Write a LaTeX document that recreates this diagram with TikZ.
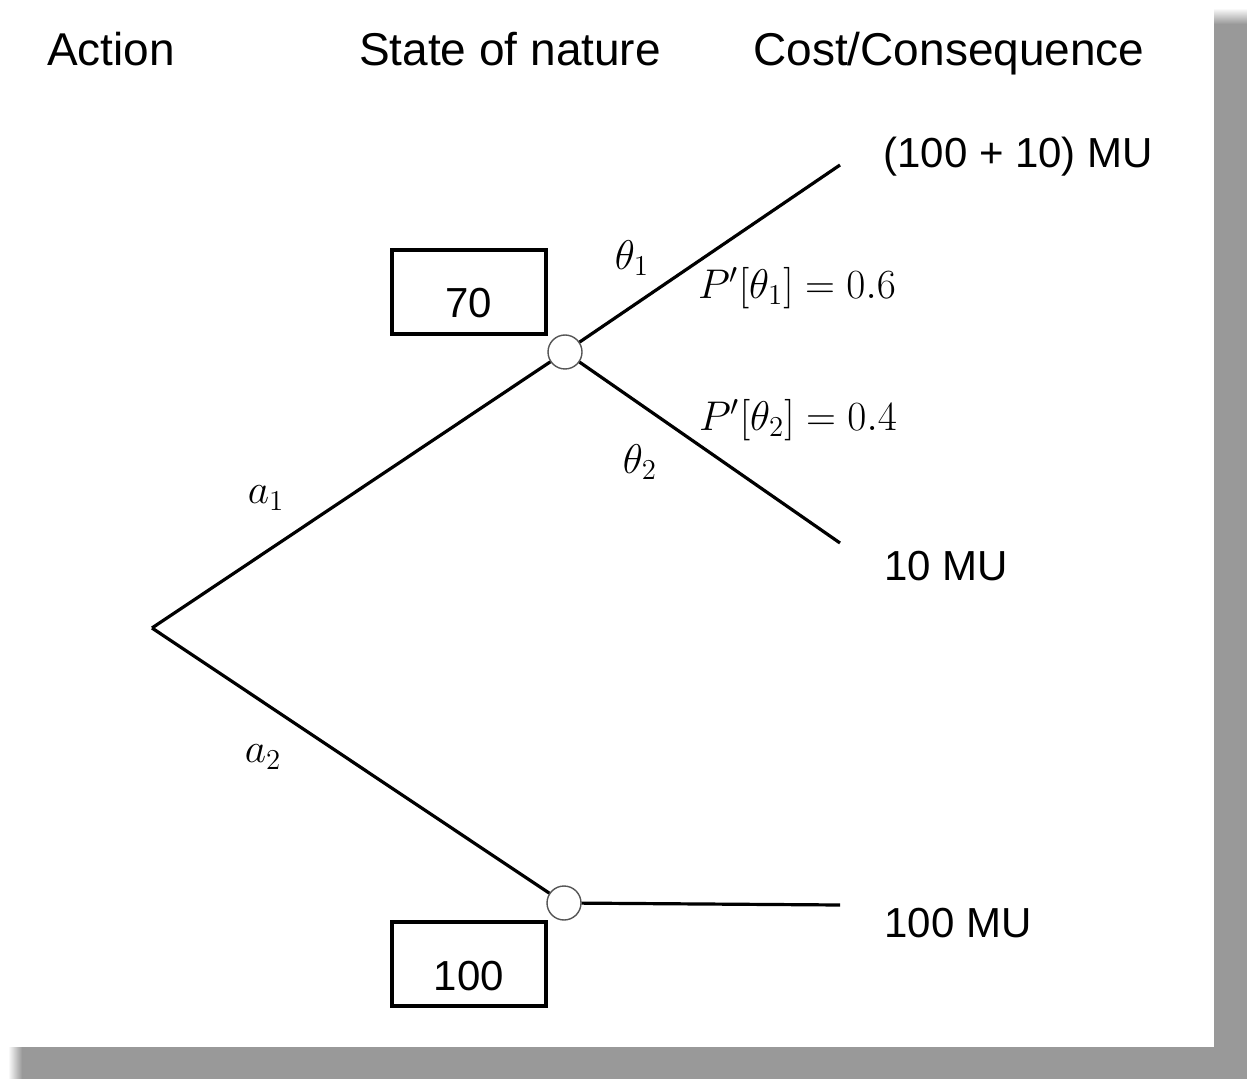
\documentclass[tikz,border=0pt]{standalone}
\usepackage{amsmath}
\usepackage[no-math]{fontspec}
\setmainfont{Liberation Sans}
\usepackage{xcolor}
\usetikzlibrary{positioning}
\definecolor{shadowgray}{HTML}{999999}
\definecolor{ringgray}{HTML}{555555}

\begin{document}
\begin{tikzpicture}[
  x=0.5pt,y=-0.5pt,
  head/.style={font=\fontsize{23}{27}\selectfont,anchor=base,inner sep=0pt},
  cons/.style={font=\fontsize{21}{25}\selectfont,anchor=west,inner sep=0pt},
  branch/.style={line width=1.6pt},
  chance/.style={circle,draw=ringgray,line width=0.7pt,fill=white,
                 minimum size=17pt,inner sep=0pt},
  valbox/.style={draw,line width=2pt,minimum width=77pt,minimum height=42pt,
                 inner sep=0pt,font=\fontsize{21}{25}\selectfont,
                 text height=26pt,text depth=0pt},
  lbl/.style={font=\fontsize{21.5}{25}\selectfont,inner sep=0pt}
]
\useasboundingbox (0,0) rectangle (1247,1079);

%------ page + drop shadow ------------------------------------------------------
\fill[shadowgray] (20,22) rectangle (1247,1079);
\shade[top color=white,bottom color=shadowgray] (1214,8) rectangle (1247,24);
\shade[left color=white,right color=shadowgray] (8,1047) rectangle (22,1079);
\fill[white] (0,0) rectangle (1214,1047);

%------ column heads ------------------------------------------------------------
\node[head] (hact) at (111,66) {Action};
\node[head] (hsta) at (510,66) {State of nature};
\node[head] (hcon) at (949,66) {Cost/Consequence};

%------ decision + chance nodes -------------------------------------------------
\coordinate (root) at (152,628);
\node[chance] (up) at (565,352) {};
\node[chance] (lo) at (564,903) {};

\coordinate (e1) at (840,165);
\coordinate (e2) at (840,543);
\coordinate (e3) at (840,905);

%------ expected values ---------------------------------------------------------
\node[valbox] (b70)  at (469,292) {70};
\node[valbox] (b100) at (469,964) {100};

%------ branches ----------------------------------------------------------------
\draw[branch] (root) -- (up);
\draw[branch] (root) -- (lo);
\draw[branch] (up) -- (e1);
\draw[branch] (up) -- (e2);
\draw[branch] (lo) -- (e3);

%------ branch labels -----------------------------------------------------------
\node[lbl] (la1) at (266,498) {$a_1$};
\node[lbl] (la2) at (263,757) {$a_2$};
\node[lbl] (lt1) at (632,258) {$\theta_1$};
\node[lbl] (lt2) at (640,462) {$\theta_2$};
\node[lbl] (lp1) at (797,288) {$P'[\theta_1]=0.6$};
\node[lbl] (lp2) at (798,420) {$P'[\theta_2]=0.4$};

%------ consequences ------------------------------------------------------------
\node[cons] (c1) at (883,157) {(100 + 10) MU};
\node[cons] (c2) at (884,566) {10 MU};
\node[cons] (c3) at (884,923) {100 MU};
\end{tikzpicture}
\end{document}
